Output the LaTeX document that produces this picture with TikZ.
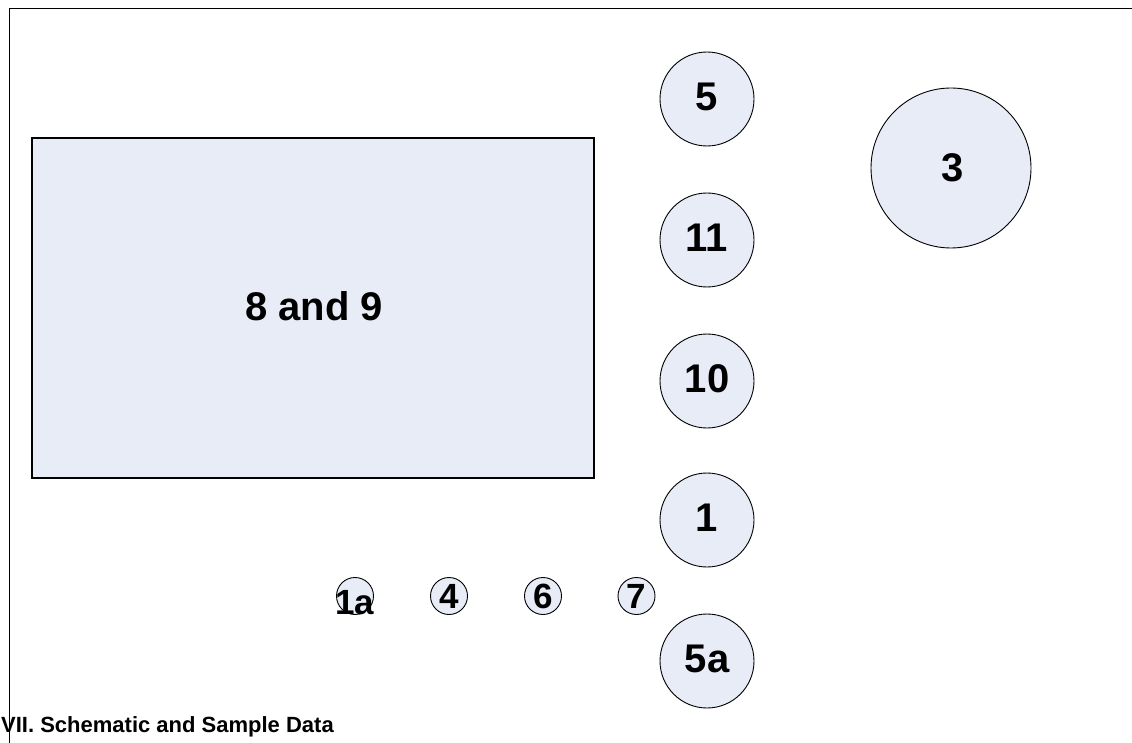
\documentclass[tikz,border=0pt]{standalone}
\usepackage{fontspec}
\setmainfont{Liberation Sans}
\definecolor{fillc}{HTML}{E8ECF7}
\tikzset{
  circ/.style={circle, draw=black, line width=0.9pt, fill=fillc, inner sep=0pt, minimum size=#1},
  biglab/.style={font=\bfseries\fontsize{40}{44}\selectfont, inner sep=0pt},
  smalllab/.style={font=\bfseries\fontsize{35}{39}\selectfont, inner sep=0pt},
  frameline/.style={line width=1pt, draw=black}
}
\begin{document}
\begin{tikzpicture}[x=1pt,y=-1pt]
\useasboundingbox (0,0) rectangle (1132,743);
% frame
\draw[frameline] (9,743) -- (9,9) -- (1133,9);
% rectangle
\node[draw=black, line width=1.4pt, fill=fillc, minimum width=562pt, minimum height=340pt, inner sep=0pt] (r89) at (313,308) {};
\node[biglab] (t89) at (314,306) {8 and 9};
% big circles
\node[circ=94pt] (c5) at (707,99) {};
\node[biglab] at (707,97) {5};
\node[circ=94pt] (c11) at (707,240) {};
\node[biglab] at (707,238) {11};
\node[circ=94pt] (c10) at (707,381) {};
\node[biglab] at (707,379) {10};
\node[circ=94pt] (c1) at (707,520) {};
\node[biglab] at (707,518) {1};
\node[circ=94pt] (c5a) at (707,661) {};
\node[biglab] at (707,659) {5a};
\node[circ=160pt] (c3) at (951,168) {};
\node[biglab] at (953,168) {3};
% small circles
\node[circ=37pt] (c1a) at (355,596) {};
\node[smalllab, anchor=base] at (355,614) {1a};
\node[circ=37pt] (c4) at (449,596) {};
\node[smalllab] at (c4) {4};
\node[circ=37pt] (c6) at (543,596) {};
\node[smalllab] at (c6) {6};
\node[circ=37pt] (c7) at (636.5,596) {};
\node[smalllab] at (c7) {7};
% title
\node[font=\bfseries\fontsize{22}{26}\selectfont, anchor=base west, inner sep=0pt] (title) at (1,732) {VII. Schematic and Sample Data};
\end{tikzpicture}
\end{document}
